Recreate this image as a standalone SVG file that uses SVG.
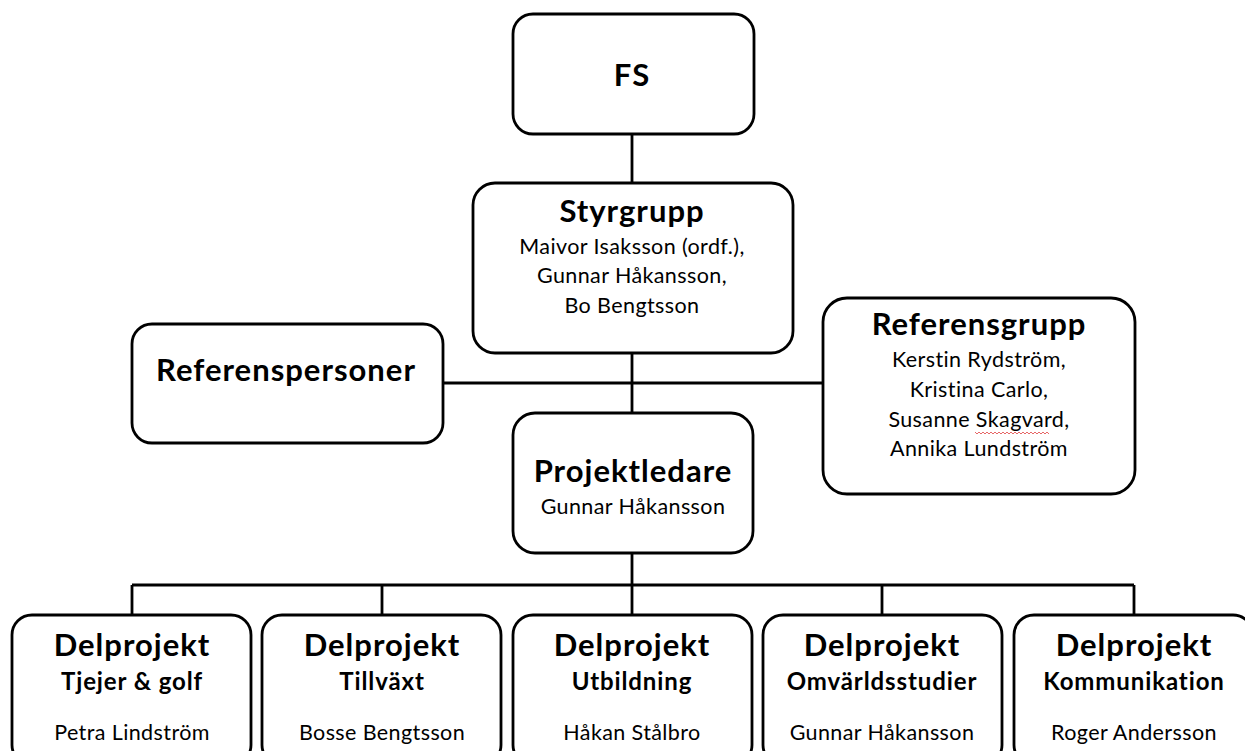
<svg xmlns="http://www.w3.org/2000/svg" width="1245" height="751" viewBox="0 0 1245 751">
<style>
.box{fill:#fff;stroke:#000;stroke-width:2.8}
.ln{stroke:#000;stroke-width:2.8;fill:none}
text{font-family:Lato,"Open Sans","Liberation Sans",sans-serif;fill:#000;text-anchor:middle}
.t{font-size:31px;font-weight:bold;letter-spacing:1px}
.s{font-size:24px;font-weight:bold;letter-spacing:0.9px}
.n{font-size:21.5px;letter-spacing:0.4px}
</style>
<rect width="1245" height="751" fill="#fff"/>
<g id="connectors">
<path class="ln" d="M632 134V183M632 353V413M443 383H823M632 553V585M132 585H1134M132 585V615M382 585V615M632 585V615M882 585V615M1134 585V615"/>
</g>
<g id="fs">
<rect class="box" x="513" y="14" width="241" height="120" rx="20"/>
<text class="t" x="632" y="86">FS</text>
</g>
<g id="styrgrupp">
<rect class="box" x="473" y="183" width="320" height="170" rx="22"/>
<text class="t" x="632" y="222">Styrgrupp</text>
<text class="n" x="632" y="254">Maivor Isaksson (ordf.),</text>
<text class="n" x="632" y="283">Gunnar Håkansson,</text>
<text class="n" x="632" y="313">Bo Bengtsson</text>
</g>
<g id="referenspersoner">
<rect class="box" x="132" y="324" width="311" height="119" rx="20"/>
<text class="t" x="286" y="381">Referenspersoner</text>
</g>
<g id="referensgrupp">
<rect class="box" x="823" y="298" width="312" height="196" rx="24"/>
<text class="t" x="979" y="335">Referensgrupp</text>
<text class="n" x="979" y="367">Kerstin Rydström,</text>
<text class="n" x="979" y="397">Kristina Carlo,</text>
<text class="n" x="979" y="427">Susanne Skagvard,</text>
<text class="n" x="979" y="456">Annika Lundström</text>
<polyline points="975,432 977,434 979,432 981,434 983,432 985,434 987,432 989,434 991,432 993,434 995,432 997,434 999,432 1001,434 1003,432 1005,434 1007,432 1009,434 1011,432 1013,434 1015,432 1017,434 1019,432 1021,434 1023,432 1025,434 1027,432 1029,434 1031,432 1033,434 1035,432 1037,434 1039,432 1041,434 1043,432 1045,434 1047,432 1049,434" fill="none" stroke="#e04040" stroke-width="0.8"/>
</g>
<g id="projektledare">
<rect class="box" x="513" y="413" width="240" height="140" rx="22"/>
<text class="t" x="633" y="482">Projektledare</text>
<text class="n" x="633" y="514">Gunnar Håkansson</text>
</g>
<g id="dp1">
<rect class="box" x="12" y="615" width="239" height="150" rx="20"/>
<text class="t" x="132" y="656">Delprojekt</text>
<text class="s" x="132" y="690">Tjejer &amp; golf</text>
<text class="n" x="132" y="740">Petra Lindström</text>
</g>
<g id="dp2">
<rect class="box" x="262" y="615" width="239" height="150" rx="20"/>
<text class="t" x="382" y="656">Delprojekt</text>
<text class="s" x="382" y="690">Tillväxt</text>
<text class="n" x="382" y="740">Bosse Bengtsson</text>
</g>
<g id="dp3">
<rect class="box" x="513" y="615" width="239" height="150" rx="20"/>
<text class="t" x="632" y="656">Delprojekt</text>
<text class="s" x="632" y="690">Utbildning</text>
<text class="n" x="632" y="740">Håkan Stålbro</text>
</g>
<g id="dp4">
<rect class="box" x="763" y="615" width="239" height="150" rx="20"/>
<text class="t" x="882" y="656">Delprojekt</text>
<text class="s" x="882" y="690">Omvärldsstudier</text>
<text class="n" x="882" y="740">Gunnar Håkansson</text>
</g>
<g id="dp5">
<rect class="box" x="1014" y="615" width="239" height="150" rx="20"/>
<text class="t" x="1134" y="656">Delprojekt</text>
<text class="s" x="1134" y="690">Kommunikation</text>
<text class="n" x="1134" y="740">Roger Andersson</text>
</g>
</svg>
